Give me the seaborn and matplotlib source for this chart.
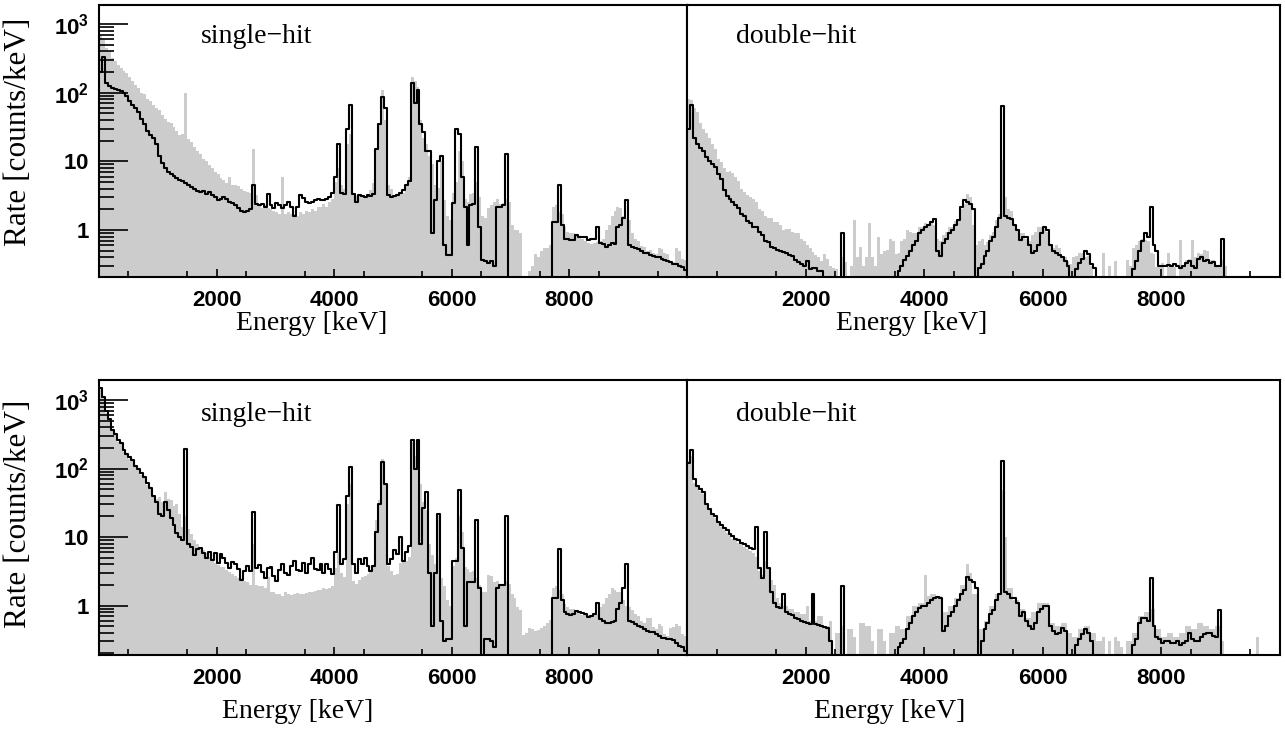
import numpy as np
import pandas as pd
import matplotlib
matplotlib.use("Agg")
import matplotlib.pyplot as plt
import seaborn as sns
from matplotlib.ticker import FixedLocator, NullFormatter, FixedFormatter

# ---------------- data: rate in counts/keV, 50 keV bins from 0 to 10000 keV -------------
energy_edges_kev = list(range(0, 10001, 50))

top_single_gray = [
    700, 600, 450, 400, 320, 290, 250, 230, 210, 195, 170, 150, 130, 115, 100, 95, 82, 75, 66, 60,
    55, 48, 42, 38, 36, 32, 28, 24, 25, 100, 21, 19, 16, 14, 13, 11, 10, 8.8, 8, 7,
    6.5, 5.7, 5.3, 4.8, 6, 4.5, 4.6, 4.4, 3.9, 3.7, 3.6, 3.5, 15, 3.2, 2.4, 2.1, 2.3, 2.1, 2, 1.9,
    1.8, 1.7, 6, 1.7, 1.8, 1.7, 1.7, 1.6, 1.8, 1.7, 1.9, 1.8, 2, 1.9, 2.2, 2.2, 2.4, 2.2, 2.6, 2.8,
    5, 8, 4.5, 4, 18, 25, 3.3, 3.1, 3.2, 3.0, 3.1, 3.2, 3.8, 4.8, 15, 35, 110, 40, 4.6, 4.0,
    3.1, 3.2, 3.3, 3.5, 4.5, 6, 170, 150, 120, 40, 22, 18, 12, 9, 4.5, 4.1, 10, 2.7, 1.6, 1.4,
    3.5, 5, 14, 10, 2.8, 2.6, 3.3, 3.5, 5, 3, 1.6, 1.5, 2.1, 2.3, 2.6, 2.8, 2.4, 2.5, 2.8, 2.6,
    1.2, 1.0, 1.0, 0.9, 0, 0, 0.25, 0.3, 0.45, 0.4, 0.5, 0.55, 0.55, 0.6, 2.2, 2.3, 1.8, 1.7, 1.1, 0.95,
    0.9, 0.9, 0.85, 0.82, 0.74, 0.7, 0.65, 0.63, 0.64, 0.66, 0.7, 0.75, 1.0, 1.2, 1.6, 1.9, 2.2, 2.1, 1.6, 1.5,
    1.4, 0.9, 0.75, 0.7, 0.58, 0.56, 0.5, 0.52, 0.46, 0.45, 0.55, 0.53, 0.47, 0.45, 0.33, 0.34, 0.55, 0.5, 0.38, 0.36]

top_single_black = [
    200, 330, 140, 125, 118, 112, 110, 105, 98, 88, 75, 66, 60, 52, 42, 35, 28, 24, 22, 18,
    12, 9.5, 8, 7, 6.5, 6.1, 5.8, 5.4, 5.2, 4.8, 4.6, 4.3, 3.9, 3.7, 3.6, 3.7, 3.4, 3.6, 3.2, 3.0,
    2.7, 2.8, 3.0, 2.8, 2.6, 2.5, 2.3, 2.1, 1.9, 1.8, 1.9, 2.0, 4.5, 2.4, 2.3, 2.4, 2.2, 3.4, 2.3, 2.1,
    2.5, 2.3, 2.1, 2.3, 2.6, 2.2, 1.6, 2.2, 3.2, 2.9, 2.6, 2.5, 2.6, 2.7, 2.8, 2.7, 2.7, 2.8, 3.0, 3.5,
    6, 18, 3.5, 3.3, 30, 66, 3.3, 2.6, 3.2, 3.1, 3.0, 3.2, 3.1, 3.3, 15, 35, 87, 60, 3.2, 3.0,
    3.1, 3.2, 3.5, 3.8, 4.5, 5.2, 140, 70, 110, 35, 27, 14, 14, 0.9, 2.7, 10, 12, 0.6, 0.43, 0.43,
    2.5, 30, 25, 6, 2.2, 0.6, 2.3, 2.4, 16, 1.1, 0.37, 0.35, 0.33, 0.35, 0.3, 2.2, 2.2, 2.3, 13, 0,
    0, 0, 0, 0, 0, 0, 0, 0, 0, 0, 0, 0, 0, 0, 1.3, 1.3, 4.5, 1.2, 0.75, 0.75,
    0.72, 0.72, 0.85, 0.8, 0.78, 0.8, 0.72, 0.75, 0.75, 1.1, 0.64, 0.62, 0.57, 0.6, 0.64, 0.62, 1.1, 1.2, 1.5, 2.7,
    0.6, 0.57, 0.55, 0.53, 0.5, 0.47, 0.46, 0.44, 0.42, 0.40, 0.4, 0.38, 0.37, 0.35, 0.34, 0.32, 0.32, 0.3, 0.29, 0.26]

top_double_gray = [
    80, 78, 60, 52, 36, 30, 26, 22, 18, 15, 11, 9.8, 8, 7, 7.2, 6.8, 6, 5.2, 4, 3.6,
    3.2, 3, 2.8, 2.6, 2, 1.9, 1.6, 1.5, 1.5, 1.3, 1.3, 1.2, 1.0, 1.05, 1.05, 0.95, 0.9, 0.9, 0.75, 0.7,
    0.6, 0.55, 0.48, 0.44, 0.4, 0.35, 0.45, 0.38, 0.3, 0.28, 0.27, 0, 0.4, 0.34, 0, 0.3, 1.4, 0.4, 0.57, 0.3,
    0.4, 1.25, 0.41, 0.3, 0.8, 0.45, 0.5, 0.52, 0.75, 0.7, 0.45, 0.47, 0.7, 0.74, 1.0, 0.95, 0.9, 0.9, 1.1, 1.1,
    1.25, 1.2, 1.3, 1.2, 0.75, 0.7, 0.85, 0.95, 1.1, 1.1, 1.35, 1.45, 2.0, 2.4, 3.4, 3.0, 1.2, 0.6, 0.7, 0.74,
    0.6, 0.68, 0.85, 0.95, 1.4, 1.7, 10.4, 3, 2.0, 1.9, 1.2, 1.0, 0.9, 0.9, 0.75, 0.7, 0.85, 0.95, 1.1, 1.1,
    1.05, 0.95, 0.6, 0.55, 0.6, 0.55, 0.42, 0.4, 0.35, 0.32, 0.4, 0.42, 0.46, 0.46, 0.4, 0.42, 0.3, 0, 0, 0,
    0.46, 0, 0.3, 0, 0.35, 0, 0, 0, 0.37, 0.3, 0.55, 0.6, 0.7, 0.74, 0.72, 0.7, 0.46, 0.45, 0.29, 0.3,
    0.33, 0, 0.46, 0.3, 0.29, 0, 0.72, 0.3, 0.37, 0.38, 0.72, 0.4, 0.46, 0.45, 0.51, 0.5, 0.37, 0.36, 0.29, 0.3,
    0.37, 0.3, 0, 0, 0, 0, 0, 0, 0, 0, 0, 0, 0, 0, 0, 0, 0, 0, 0, 0]

top_double_black = [
    30, 66, 22, 18, 15.5, 14, 11.5, 10, 9.2, 8.4, 6.5, 5.5, 3.8, 3.1, 2.8, 2.6, 2.3, 2.1, 1.7, 1.6,
    1.35, 1.25, 1.1, 1.1, 0.95, 0.85, 0.7, 0.66, 0.57, 0.55, 0.52, 0.5, 0.48, 0.46, 0.44, 0.42, 0.36, 0.34, 0.32, 0.3,
    0.35, 0.27, 0.28, 0.28, 0.25, 0.25, 0, 0, 0, 0, 0, 0, 0.92, 0, 0, 0, 0, 0, 0, 0,
    0, 0, 0, 0, 0, 0, 0, 0, 0, 0, 0, 0.25, 0.3, 0.36, 0.42, 0.5, 0.6, 0.7, 0.9, 1.0,
    1.1, 1.2, 1.3, 1.45, 0.5, 0.42, 0.65, 0.75, 0.9, 1.0, 1.2, 1.4, 2.2, 2.7, 2.6, 2.4, 2.0, 0, 0.28, 0.32,
    0.42, 0.5, 0.7, 0.8, 1.1, 1.5, 63, 1.6, 1.5, 1.45, 1.2, 1.0, 0.72, 0.8, 0.8, 0.6, 0.46, 0.5, 0.6, 0.9,
    1.1, 1.0, 0.6, 0.5, 0.46, 0.44, 0.4, 0.35, 0.3, 0, 0, 0.27, 0.33, 0.38, 0.5, 0.45, 0.32, 0.28, 0, 0,
    0, 0, 0, 0, 0, 0, 0, 0, 0, 0, 0.27, 0.35, 0.5, 0.7, 0.9, 0.8, 2.2, 0.6, 0.5, 0.3,
    0.3, 0.3, 0.31, 0.3, 0.32, 0.3, 0.28, 0.3, 0.33, 0.35, 0.3, 0.28, 0.38, 0.4, 0.35, 0.36, 0.33, 0.34, 0.3, 0.3,
    0.73, 0, 0, 0, 0, 0, 0, 0, 0, 0, 0, 0, 0, 0, 0, 0, 0, 0, 0, 0]

bottom_single_gray = [
    1400, 1100, 650, 500, 350, 310, 245, 225, 175, 160, 140, 128, 105, 95, 80, 74, 58, 50, 40, 36,
    38, 32, 45, 36, 35, 28, 30, 22, 14, 20, 13, 11, 9, 8, 7.2, 6.5, 5.8, 5.2, 4.6, 4.2,
    3.9, 3.6, 3.6, 3.3, 3.1, 2.9, 2.7, 2.5, 2.5, 2.3, 2.2, 2.0, 8, 2, 1.9, 1.9, 1.8, 2.6, 1.6, 1.6,
    1.5, 1.5, 1.4, 1.6, 1.5, 1.45, 1.5, 1.55, 1.5, 1.5, 1.55, 1.6, 1.6, 1.65, 1.7, 1.7, 1.8, 1.75, 1.8, 1.9,
    3.5, 6, 3, 2.6, 30, 60, 2.3, 2.1, 2.4, 2.6, 2.7, 2.9, 3.2, 3.8, 18, 35, 140, 60, 3.8, 3.2,
    2.8, 2.9, 4.2, 4.6, 4.5, 5.2, 245, 150, 195, 60, 33, 25, 8, 5.5, 4, 20, 2.5, 1.9, 1.2, 1.0,
    3.8, 5, 20, 12, 3.6, 3.4, 3.1, 3.2, 2.5, 2, 1.6, 1.6, 2.8, 2.7, 2.2, 2.3, 2.0, 2.1, 2.3, 2.1,
    1.5, 1.3, 0.95, 0.85, 0.37, 0.4, 0.47, 0.45, 0.42, 0.44, 0.47, 0.5, 0.55, 0.62, 1.8, 1.9, 1.7, 1.5, 1.05, 0.95,
    0.9, 0.88, 0.83, 0.8, 0.74, 0.72, 0.73, 0.74, 0.72, 0.75, 0.95, 1.05, 1.3, 1.5, 1.8, 1.7, 1.6, 1.6, 1.2, 1.0,
    0.95, 0.85, 0.75, 0.7, 0.6, 0.56, 0.65, 0.66, 0.48, 0.46, 0.53, 0.5, 0.38, 0.36, 0.47, 0.48, 0.53, 0.5, 0.38, 0.36]

bottom_single_black = [
    1500, 1100, 700, 520, 370, 320, 260, 235, 185, 165, 145, 135, 110, 100, 85, 75, 62, 52, 40, 32,
    22, 20, 33, 25, 19, 15, 11.5, 10, 9, 195, 8, 7.2, 5.5, 6.8, 7, 5.8, 5, 6, 4.6, 5.8,
    4.2, 5.6, 5, 4.2, 3.5, 4.3, 4, 3.4, 2.4, 3.2, 3.8, 3.2, 23, 3.5, 3.9, 3.1, 2.5, 3.5, 3.6, 2.7,
    2.3, 3.3, 4, 3, 2.8, 3.8, 4.5, 3.3, 3.2, 4.2, 3, 4, 5, 3.4, 3.3, 4.1, 3, 4, 3.4, 2.9,
    6, 29, 4, 4.8, 40, 105, 4, 3, 4.8, 4, 5, 3.8, 3.2, 3.8, 12, 30, 125, 60, 4, 4.8,
    6.5, 5.7, 10, 4.4, 6, 7.5, 260, 100, 260, 8, 27, 45, 3, 0.5, 3, 22, 0.6, 0.3, 0.33, 0.33,
    4.4, 4.5, 48, 7, 0.5, 2.2, 2.2, 2.2, 18, 1.8, 0, 0.33, 0.33, 0.3, 0.25, 1.8, 2.0, 2.0, 20, 0,
    0, 0, 0, 0, 0, 0, 0, 0, 0, 0, 0, 0, 0, 0, 1.28, 1.3, 6.8, 1.2, 0.8, 0.75,
    0.73, 0.75, 0.82, 0.8, 0.78, 0.76, 0.69, 0.7, 0.75, 1.1, 0.63, 0.6, 0.55, 0.56, 0.58, 0.6, 0.9, 1.1, 1.8, 4.1,
    0.6, 0.57, 0.53, 0.51, 0.48, 0.46, 0.43, 0.41, 0.41, 0.39, 0.36, 0.34, 0.34, 0.33, 0.33, 0.31, 0.28, 0.26, 0.25, 0.22]

bottom_double_gray = [
    130, 150, 62, 54, 47, 43, 29, 25, 21, 19, 16, 14, 12.5, 11.5, 10.5, 9.5, 9, 8.2, 7.8, 7.2,
    6.8, 6.2, 5.8, 5.2, 3.2, 2.8, 4.5, 3.5, 2.4, 2, 1.3, 1.1, 1.0, 1.0, 0.9, 0.9, 0.8, 0.8, 0.75, 0.75,
    1.0, 0.6, 0.6, 0.6, 0.7, 0.7, 0.5, 0.5, 0.6, 0, 0.4, 0.4, 0.5, 0, 0.45, 0.45, 0.35, 0, 0.55, 0.55,
    0.5, 0.5, 0.3, 0, 0.45, 0.45, 0.3, 0, 0.4, 0.4, 0.5, 0.5, 0.45, 0.45, 0.7, 0.7, 1.0, 1.0, 1.1, 1.1,
    2.8, 1.4, 1.5, 1.5, 1.4, 1.4, 0.8, 0.8, 1.0, 1.0, 1.3, 1.3, 2.0, 2.0, 4.1, 3.0, 1.5, 1.5, 0.45, 0.45,
    0.6, 0.6, 1.0, 1.0, 1.5, 1.5, 48, 10, 1.8, 1.8, 1.2, 1.2, 0.9, 0.9, 0.65, 0.65, 0.8, 0.8, 1.1, 1.1,
    1.1, 1.1, 0.55, 0.55, 0.5, 0.5, 0.55, 0.55, 0.4, 0.4, 0.35, 0.35, 0.45, 0.45, 0.5, 0.5, 0.4, 0.4, 0.3, 0.3,
    0.35, 0, 0.3, 0, 0.35, 0.3, 0.25, 0, 0.3, 0.3, 0.4, 0.4, 0.7, 0.7, 0.8, 0.8, 0.9, 0.9, 0.45, 0.45,
    0.35, 0.35, 0.4, 0.4, 0.35, 0.35, 0.4, 0.4, 0.5, 0.5, 0.45, 0.45, 0.55, 0.55, 0.5, 0.5, 0.45, 0.45, 0.5, 0.5,
    0.3, 0, 0, 0, 0, 0, 0, 0, 0, 0, 0, 0, 0.35, 0, 0, 0, 0, 0, 0, 0]

bottom_double_black = [
    120, 185, 70, 55, 50, 45, 30, 26, 22, 20, 16.5, 15, 13.5, 12.5, 11, 10.4, 9.5, 9, 8.3, 7.9,
    7.4, 7, 6.8, 14, 3.5, 2.5, 12, 3.5, 1.6, 1.1, 0.95, 0.93, 1.5, 0.8, 0.76, 0.74, 0.66, 0.64, 0.59, 0.57,
    0.56, 0.54, 1.5, 0.53, 0.52, 0.5, 0.49, 0.47, 0.3, 0, 0, 0, 1.9, 0, 0, 0, 0, 0, 0, 0,
    0, 0, 0, 0, 0, 0, 0, 0, 0, 0, 0, 0.25, 0.28, 0.33, 0.45, 0.55, 0.7, 0.8, 0.92, 0.98,
    1.0, 1.1, 1.2, 1.3, 1.35, 1.3, 0.42, 0.5, 0.7, 0.8, 1.0, 1.2, 1.5, 1.7, 2.6, 2.4, 2.2, 1.8, 0, 0.3,
    0.45, 0.55, 0.75, 0.85, 1.2, 1.5, 128, 1.6, 1.5, 1.3, 1.3, 1.1, 0.7, 0.8, 0.6, 0.5, 0.45, 0.55, 0.8, 0.9,
    1.0, 1.0, 0.5, 0.42, 0.38, 0.4, 0.47, 0.42, 0, 0, 0, 0.27, 0.32, 0.38, 0.45, 0.4, 0.3, 0, 0, 0,
    0, 0, 0, 0, 0, 0, 0, 0, 0, 0, 0.27, 0.33, 0.55, 0.65, 0.65, 0.6, 2.5, 0.5, 0.35, 0.33,
    0.28, 0.3, 0.3, 0.28, 0.28, 0.3, 0.27, 0.28, 0.3, 0.4, 0.33, 0.3, 0.3, 0.35, 0.38, 0.4, 0.4, 0.36, 0.35, 0.86,
    0, 0, 0, 0, 0, 0, 0, 0, 0, 0, 0, 0, 0, 0, 0, 0, 0, 0, 0, 0]

panel_titles = ["single\u2212hit", "double\u2212hit"]
x_label = "Energy [keV]"
y_label = "Rate [counts/keV]"
x_tick_values = [2000, 4000, 6000, 8000]
x_tick_labels = ["2000", "4000", "6000", "8000"]
y_tick_values = [1, 10, 100, 1000]
y_tick_labels = [r"$\mathbf{1}$", r"$\mathbf{10}$", r"$\mathbf{10^{2}}$", r"$\mathbf{10^{3}}$"]

# ---------------- style ----------------
sns.set_theme(style="ticks")
plt.rcParams["font.family"] = ["Liberation Sans", "DejaVu Sans"]
plt.rcParams["mathtext.fontset"] = "custom"
plt.rcParams["mathtext.bf"] = "Liberation Sans:bold"
plt.rcParams["mathtext.rm"] = "Liberation Sans:bold"
plt.rcParams["mathtext.it"] = "Liberation Sans:bold"
for key in ("text.color", "axes.labelcolor", "xtick.color", "ytick.color", "axes.edgecolor"):
    plt.rcParams[key] = "black"

GRAY = "#cccccc"
W, H = 1285, 731
fig = plt.figure(figsize=(W / 100, H / 100), dpi=100)


def px_axes(x0, x1, y0, y1):
    return fig.add_axes([x0 / W, 1 - y1 / H, (x1 - x0) / W, (y1 - y0) / H])


edges = np.array(energy_edges_kev, dtype=float)
centers = (edges[:-1] + edges[1:]) / 2
bin_w = edges[1] - edges[0]


def draw_hist(ax, values, fill, color, lw):
    df = pd.DataFrame({"energy": centers, "rate": np.asarray(values, dtype=float)})
    try:
        sns.histplot(data=df, x="energy", weights="rate", binwidth=bin_w,
                     binrange=(edges[0], edges[-1]), element="step", fill=fill,
                     color=color, alpha=1.0, linewidth=lw, ax=ax)
    except Exception:
        y = np.append(df["rate"].values, df["rate"].values[-1])
        if fill:
            ax.fill_between(edges, y, step="post", color=color, linewidth=0)
        else:
            sns.lineplot(x=edges, y=y, drawstyle="steps-post", color=color,
                         linewidth=lw, ax=ax, estimator=None)


rows = [
    dict(y0=5, y1=277, ylim=(0.207, 1890), gray=(top_single_gray, top_double_gray),
         black=(top_single_black, top_double_black), xlab_y=323, ylab_y=132,
         xlab_x=(312, 912)),
    dict(y0=380, y1=655, ylim=(0.19, 1960), gray=(bottom_single_gray, bottom_double_gray),
         black=(bottom_single_black, bottom_double_black), xlab_y=712, ylab_y=514,
         xlab_x=(298, 890)),
]
cols = [dict(x0=99, x1=687, title_x=0.173),
        dict(x0=687, x1=1280, title_x=0.083)]

for r, row in enumerate(rows):
    for c, col in enumerate(cols):
        ax = px_axes(col["x0"], col["x1"], row["y0"], row["y1"])
        ax.set_axisbelow(False)
        draw_hist(ax, row["gray"][c], True, GRAY, 0)
        draw_hist(ax, row["black"][c], False, "black", 1.5)
        ax.set_yscale("log")
        ax.set_ylim(*row["ylim"])
        ax.set_xlim(0, 10000)
        ax.set_xlabel("")
        ax.set_ylabel("")
        for sp in ax.spines.values():
            sp.set_visible(True)
            sp.set_color("black")
            sp.set_linewidth(1.5)
            sp.set_zorder(5)
        # x ticks
        ax.xaxis.set_major_locator(FixedLocator([0] + x_tick_values + [10000]))
        ax.xaxis.set_major_formatter(FixedFormatter([""] + x_tick_labels + [""]))
        ax.xaxis.set_minor_locator(FixedLocator(list(range(500, 10000, 1000))))
        ax.tick_params(axis="x", which="both", direction="in", bottom=True, top=False,
                       color="black", width=1.2, pad=9, labelcolor="black")
        ax.tick_params(axis="x", which="major", length=6, labelsize=16)
        ax.tick_params(axis="x", which="minor", length=4)
        for lab in ax.get_xticklabels():
            lab.set_fontweight("bold")
        # y ticks
        if c == 0:
            ax.yaxis.set_major_locator(FixedLocator(y_tick_values))
            ax.yaxis.set_major_formatter(FixedFormatter(y_tick_labels))
            minors = [m * d for d in (0.1, 1, 10, 100, 1000) for m in range(2, 10)]
            ax.yaxis.set_minor_locator(FixedLocator(minors))
            ax.yaxis.set_minor_formatter(NullFormatter())
            ax.tick_params(axis="y", which="both", direction="in", left=True, right=False,
                           color="black", width=1.2, pad=7, labelsize=16, labelcolor="black")
            ax.tick_params(axis="y", which="major", length=21)
            ax.tick_params(axis="y", which="minor", length=10.5)
            fig.text(19 / W, 1 - row["ylab_y"] / H, y_label, rotation=90, ha="center",
                     va="center", fontsize=22.5, family="Liberation Serif", color="black")
        else:
            ax.tick_params(axis="y", which="both", left=False, right=False, labelleft=False)
        ax.text(col["title_x"], 0.885 if r == 0 else 0.876, panel_titles[c],
                transform=ax.transAxes, ha="left", va="center", fontsize=20,
                family="Liberation Serif", color="black")
        fig.text(row["xlab_x"][c] / W, 1 - row["xlab_y"] / H, x_label, ha="center",
                 va="center", fontsize=20, family="Liberation Serif", color="black")

fig.savefig("out.png", dpi=100)
